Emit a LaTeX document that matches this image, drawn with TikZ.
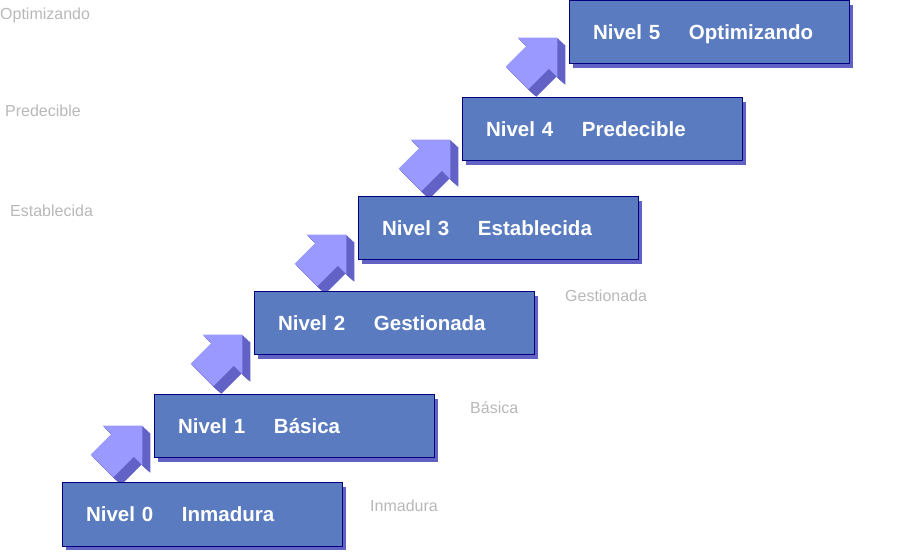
\documentclass[tikz,border=0pt]{standalone}
\usepackage{fontspec}
\setmainfont{Liberation Sans}
\usepackage{tikz}
\usetikzlibrary{positioning,calc,shadows}

\definecolor{cajaazul}{HTML}{5A7BC0}
\definecolor{bordeazul}{HTML}{000080}
\definecolor{sombra}{HTML}{6262C4}
\definecolor{flechaclara}{HTML}{9999FF}
\definecolor{flechaosc}{HTML}{6161C6}

\tikzset{
  nivel/.style={rectangle, draw=bordeazul, line width=1pt, fill=cajaazul,
    minimum width=280pt, minimum height=63pt, inner xsep=24pt, inner ysep=0pt,
    text width=232pt, align=left, text=white, text height=14.7pt, text depth=0pt,
    font=\fontsize{20.5}{22}\selectfont\bfseries,
    drop shadow={shadow xshift=4pt, shadow yshift=-4pt, fill=sombra, opacity=1}},
  fantasma/.style={anchor=west, inner sep=0pt, text=black!28,
    font=\fontsize{16}{18}\selectfont},
  flecha/.pic={
    \foreach \k in {1,...,10}
      \fill[flechaosc, shift={(\k*0.8,-\k*0.75)}, rotate=45]
        (0,-16) -- (29,-16) -- (29,-28) -- (57,0) -- (29,28) -- (29,16) -- (0,16) -- cycle;
    \fill[flechaclara, rotate=45]
      (0,-16) -- (29,-16) -- (29,-28) -- (57,0) -- (29,28) -- (29,16) -- (0,16) -- cycle;
  }
}

\newcommand{\rotulo}[2]{\makebox[96pt][l]{#1}#2}

\begin{document}
\begin{tikzpicture}[x=1pt, y=1pt]
    \useasboundingbox (0,0) rectangle (911,552);

    % textos tenues de fondo
    \node[fantasma] (t5) at (0, 537) {Optimizando};
    \node[fantasma] (t4) at (5, 441) {Predecible};
    \node[fantasma] (t3) at (10, 341) {Establecida};
    \node[fantasma] (t2) at (565, 256) {Gestionada};
    \node[fantasma] (t1) at (470, 144) {Básica};
    \node[fantasma] (t0) at (370, 46) {Inmadura};

    % coordenadas de los escalones
    \coordinate (c0) at (202, 37.5);
    \coordinate (c1) at (294, 125.5);
    \coordinate (c2) at (394, 228.5);
    \coordinate (c3) at (498, 323.5);
    \coordinate (c4) at (602, 422.5);
    \coordinate (c5) at (709, 519.5);

    % flechas
    \pic at ($(c1)+(-192,-39.5)$) {flecha};
    \pic at ($(c2)+(-192,-51.5)$) {flecha};
    \pic at ($(c3)+(-192,-46.5)$) {flecha};
    \pic at ($(c4)+(-192,-50.5)$) {flecha};
    \pic at ($(c5)+(-192,-45.5)$) {flecha};

    % niveles
    \node[nivel] (n0) at (c0) {\rotulo{Nivel 0}{Inmadura}};
    \node[nivel] (n1) at (c1) {\rotulo{Nivel 1}{Básica}};
    \node[nivel] (n2) at (c2) {\rotulo{Nivel 2}{Gestionada}};
    \node[nivel] (n3) at (c3) {\rotulo{Nivel 3}{Establecida}};
    \node[nivel] (n4) at (c4) {\rotulo{Nivel 4}{Predecible}};
    \node[nivel] (n5) at (c5) {\rotulo{Nivel 5}{Optimizando}};
\end{tikzpicture}
\end{document}
